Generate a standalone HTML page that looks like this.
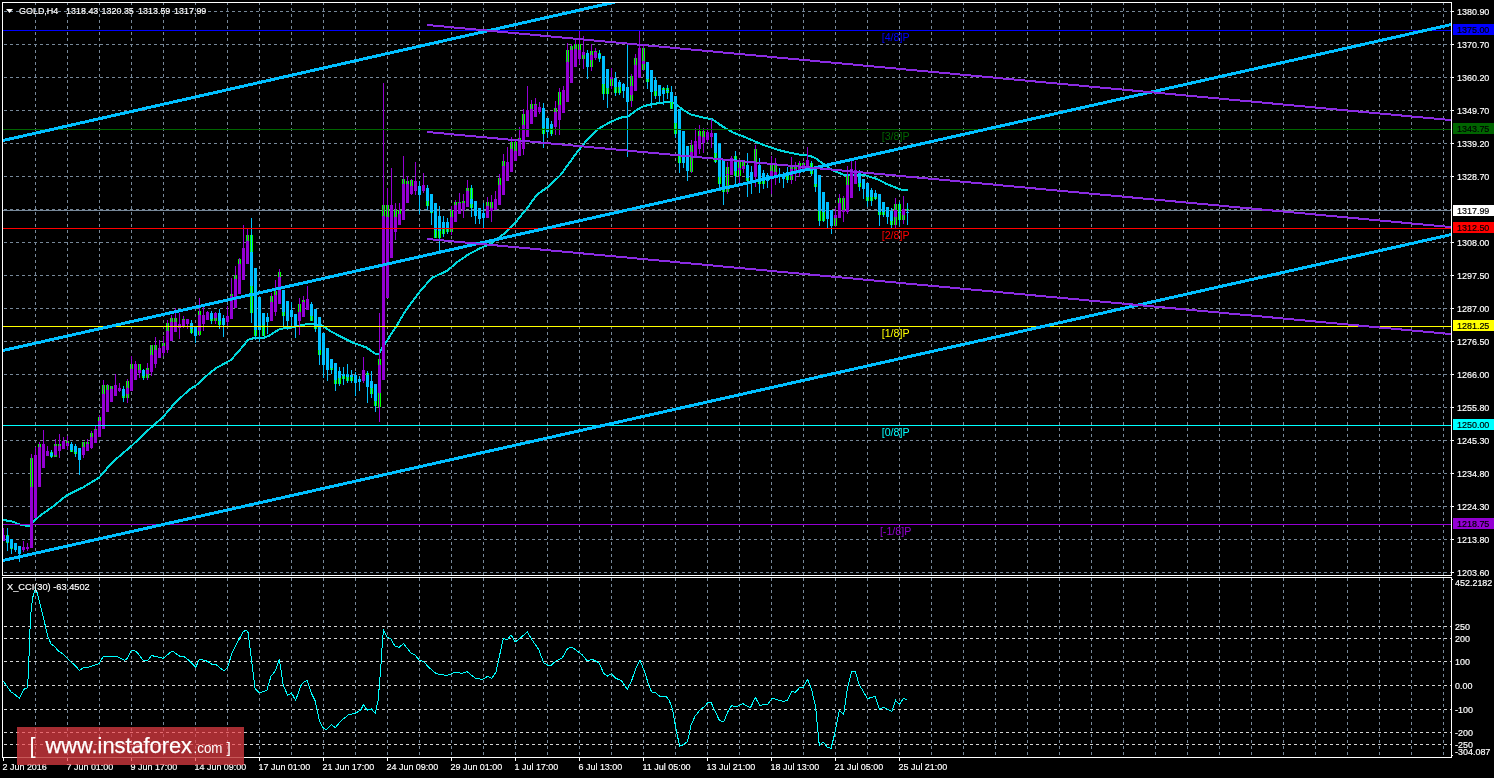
<!DOCTYPE html><html><head><meta charset="utf-8"><title>GOLD H4</title>
<style>html,body{margin:0;padding:0;background:#000;overflow:hidden}svg{display:block}text{font-family:"Liberation Sans",Arial,sans-serif;font-size:9.8px;fill:#fff;stroke:#fff;stroke-width:.18px}</style>
</head><body>
<svg width="1494" height="778" viewBox="0 0 1494 778">
<rect width="1494" height="778" fill="#000"/>
<defs><clipPath id="cm"><rect x="3" y="3" width="1448" height="572"/></clipPath><clipPath id="ci"><rect x="3" y="578" width="1448" height="179"/></clipPath></defs>
<g shape-rendering="crispEdges" stroke="#778899" stroke-width="1" stroke-dasharray="3 3" fill="none">
<path d="M35.5 2V575M67.5 2V575M99.5 2V575M131.5 2V575M163.5 2V575M195.5 2V575M227.5 2V575M259.5 2V575M291.5 2V575M323.5 2V575M355.5 2V575M387.5 2V575M419.5 2V575M451.5 2V575M483.5 2V575M515.5 2V575M547.5 2V575M579.5 2V575M611.5 2V575M643.5 2V575M675.5 2V575M707.5 2V575M739.5 2V575M771.5 2V575M803.5 2V575M835.5 2V575M867.5 2V575M899.5 2V575M931.5 2V575M963.5 2V575M995.5 2V575M1027.5 2V575M1059.5 2V575M1091.5 2V575M1123.5 2V575M1155.5 2V575M1187.5 2V575M1219.5 2V575M1251.5 2V575M1283.5 2V575M1315.5 2V575M1347.5 2V575M1379.5 2V575M1411.5 2V575M1443.5 2V575"/>
<path d="M35.5 578V757M67.5 578V757M99.5 578V757M131.5 578V757M163.5 578V757M195.5 578V757M227.5 578V757M259.5 578V757M291.5 578V757M323.5 578V757M355.5 578V757M387.5 578V757M419.5 578V757M451.5 578V757M483.5 578V757M515.5 578V757M547.5 578V757M579.5 578V757M611.5 578V757M643.5 578V757M675.5 578V757M707.5 578V757M739.5 578V757M771.5 578V757M803.5 578V757M835.5 578V757M867.5 578V757M899.5 578V757M931.5 578V757M963.5 578V757M995.5 578V757M1027.5 578V757M1059.5 578V757M1091.5 578V757M1123.5 578V757M1155.5 578V757M1187.5 578V757M1219.5 578V757M1251.5 578V757M1283.5 578V757M1315.5 578V757M1347.5 578V757M1379.5 578V757M1411.5 578V757M1443.5 578V757"/>
<path d="M4 11.5H1451M4 44.5H1451M4 77.5H1451M4 110.5H1451M4 143.5H1451M4 176.5H1451M4 209.5H1451M4 242.5H1451M4 275.5H1451M4 308.5H1451M4 341.5H1451M4 374.5H1451M4 407.5H1451M4 440.5H1451M4 473.5H1451M4 506.5H1451M4 539.5H1451M4 572.5H1451"/>
<path stroke="#d4d4d4" d="M4 626.5H1451M4 638.5H1451M4 661.5H1451M4 685.5H1451M4 709.5H1451M4 732.5H1451M4 744.5H1451"/>
</g>
<rect x="3" y="210" width="1448" height="1" fill="#778899" shape-rendering="crispEdges"/>
<g clip-path="url(#cm)" shape-rendering="crispEdges">
<polyline fill="none" stroke="#00d8dc" stroke-width="2" stroke-linejoin="round" points="3.3,520.2 10.7,520.9 20,524.6 28.8,526.2 32.8,522.2 40.2,515.5 53.5,506.1 66.9,495.2 83,487.4 99,477.7 112.4,462.2 131.2,446.2 141.9,436.1 152.6,426.1 163,417.1 174.3,403.7 189.1,389.7 195.8,385.7 205.1,377 215.8,368.3 230.6,360.2 238.6,351.5 248,339.9 254.7,337.8 264,337.8 269.4,335.5 280.1,328.8 290,327.8 300.8,325.4 308.8,323.8 320.9,324.8 330.2,331 342.3,337.5 353,342.8 366.4,347.5 375.8,354.2 379.1,354.2 381.8,348.2 386.5,341.5 397.2,324.8 406.3,309.5 419.5,292 431.6,278 447.6,270.6 455.7,263.2 469.1,253.9 481.1,247.8 490.5,243.8 503.9,233.8 515.5,222.4 527,208.3 537.3,194.3 548,186.9 560.1,175.5 570,162 578,151 587,140 599,128.4 611,121.7 620.5,117.7 628.5,116.3 635.2,111 643.2,106.3 651.3,104.3 660.6,102.9 668.7,101.6 675.4,103.6 682.5,109.5 691,114.6 702.9,117.4 712.3,119.4 723,126.7 733.7,132.8 744.4,136.8 755.1,141.5 768.5,146.8 779.2,150.2 789.9,152.8 800.6,154.8 810,155.8 816,158.5 823.5,164 833,170.4 844.3,175 865.7,175.5 876.4,178.8 887.1,184.2 897.8,188.5 903.2,190.2 907.8,190.2"/>
<path fill="#00ff00" d="M6 535h3v8h-3zM10 548h3v1h-3zM30 458h3v29h-3zM38 444h3v3h-3zM50 452h3v5h-3zM54 444h3v2h-3zM54 455h3v2h-3zM58 444h3v2h-3zM66 441h3v2h-3zM70 450h3v2h-3zM74 452h3v2h-3zM82 442h3v5h-3zM86 442h3v2h-3zM90 433h3v4h-3zM94 429h3v1h-3zM98 417h3v4h-3zM102 385h3v9h-3zM106 385h3v5h-3zM110 386h3v3h-3zM122 396h3v2h-3zM126 381h3v7h-3zM126 394h3v4h-3zM130 364h3v5h-3zM138 364h3v6h-3zM142 376h3v2h-3zM146 368h3v2h-3zM146 374h3v4h-3zM150 345h3v10h-3zM154 345h3v5h-3zM162 343h3v3h-3zM166 323h3v8h-3zM170 318h3v4h-3zM174 318h3v4h-3zM182 319h3v1h-3zM190 329h3v4h-3zM198 311h3v4h-3zM198 331h3v4h-3zM210 319h3v2h-3zM214 318h3v3h-3zM218 321h3v4h-3zM230 294h3v2h-3zM234 275h3v4h-3zM238 259h3v5h-3zM246 235h3v6h-3zM250 235h3v17h-3zM250 286h3v27h-3zM254 330h3v6h-3zM262 325h3v11h-3zM270 296h3v6h-3zM274 291h3v4h-3zM278 272h3v5h-3zM282 312h3v4h-3zM298 304h3v8h-3zM302 300h3v2h-3zM310 316h3v5h-3zM314 326h3v3h-3zM318 350h3v5h-3zM330 368h3v2h-3zM334 380h3v4h-3zM338 378h3v6h-3zM342 376h3v3h-3zM346 377h3v4h-3zM350 377h3v4h-3zM366 373h3v2h-3zM370 388h3v6h-3zM374 401h3v5h-3zM378 359h3v6h-3zM378 393h3v14h-3zM382 205h3v11h-3zM386 205h3v12h-3zM394 210h3v7h-3zM398 210h3v4h-3zM402 179h3v5h-3zM406 181h3v3h-3zM410 180h3v6h-3zM426 201h3v5h-3zM430 212h3v1h-3zM434 230h3v8h-3zM438 231h3v7h-3zM442 228h3v6h-3zM446 229h3v3h-3zM450 210h3v7h-3zM450 229h3v3h-3zM454 202h3v3h-3zM458 202h3v1h-3zM462 201h3v2h-3zM466 188h3v3h-3zM470 188h3v11h-3zM470 204h3v4h-3zM486 202h3v4h-3zM490 202h3v6h-3zM498 178h3v7h-3zM502 161h3v5h-3zM510 142h3v7h-3zM514 142h3v9h-3zM518 138h3v2h-3zM522 114h3v11h-3zM530 104h3v5h-3zM534 104h3v1h-3zM542 128h3v6h-3zM550 128h3v6h-3zM554 108h3v4h-3zM558 92h3v13h-3zM566 50h3v12h-3zM570 46h3v4h-3zM574 44h3v5h-3zM578 44h3v6h-3zM582 55h3v4h-3zM590 51h3v4h-3zM590 60h3v7h-3zM594 51h3v1h-3zM598 53h3v6h-3zM602 84h3v10h-3zM606 88h3v6h-3zM610 79h3v7h-3zM614 87h3v6h-3zM618 87h3v6h-3zM630 76h3v10h-3zM630 95h3v6h-3zM634 58h3v7h-3zM642 48h3v13h-3zM642 64h3v6h-3zM646 79h3v3h-3zM654 91h3v5h-3zM662 88h3v2h-3zM666 88h3v5h-3zM670 102h3v7h-3zM674 123h3v11h-3zM678 156h3v7h-3zM690 145h3v27h-3zM698 131h3v5h-3zM702 131h3v6h-3zM714 153h3v9h-3zM718 177h3v7h-3zM722 190h3v2h-3zM726 167h3v25h-3zM734 156h3v20h-3zM738 162h3v14h-3zM742 162h3v5h-3zM746 178h3v3h-3zM754 149h3v13h-3zM758 181h3v3h-3zM762 181h3v3h-3zM770 165h3v6h-3zM774 165h3v7h-3zM786 176h3v4h-3zM790 167h3v2h-3zM790 176h3v4h-3zM794 167h3v2h-3zM798 163h3v3h-3zM802 163h3v2h-3zM810 163h3v4h-3zM810 171h3v3h-3zM814 184h3v3h-3zM818 211h3v10h-3zM822 212h3v9h-3zM834 218h3v8h-3zM838 198h3v5h-3zM842 198h3v13h-3zM846 176h3v9h-3zM858 183h3v4h-3zM866 197h3v4h-3zM870 197h3v4h-3zM874 197h3v2h-3zM878 212h3v3h-3zM882 212h3v3h-3zM890 221h3v4h-3zM894 204h3v6h-3zM894 217h3v8h-3zM898 204h3v16h-3zM902 215h3v5h-3zM906 209h3v1h-3z"/>
<path fill="#9400d3" d="M2 535h3v6h-3zM22 547h3v3h-3zM26 547h3v2h-3zM30 487h3v61h-3zM34 455h3v63h-3zM38 447h3v40h-3zM42 444h3v24h-3zM46 451h3v5h-3zM54 446h3v9h-3zM58 446h3v5h-3zM62 441h3v8h-3zM66 443h3v3h-3zM82 447h3v8h-3zM86 444h3v7h-3zM90 437h3v11h-3zM94 430h3v13h-3zM98 421h3v16h-3zM102 394h3v35h-3zM106 390h3v22h-3zM110 389h3v13h-3zM114 385h3v11h-3zM118 388h3v3h-3zM126 388h3v6h-3zM130 369h3v22h-3zM134 364h3v16h-3zM138 370h3v3h-3zM146 370h3v4h-3zM150 355h3v17h-3zM154 350h3v14h-3zM158 348h3v10h-3zM162 346h3v7h-3zM166 331h3v19h-3zM170 322h3v19h-3zM174 322h3v10h-3zM178 324h3v4h-3zM182 320h3v6h-3zM186 319h3v5h-3zM198 315h3v16h-3zM202 315h3v9h-3zM206 312h3v8h-3zM214 313h3v5h-3zM226 316h3v6h-3zM230 296h3v23h-3zM234 279h3v29h-3zM238 264h3v30h-3zM242 248h3v32h-3zM246 241h3v23h-3zM270 302h3v19h-3zM274 295h3v17h-3zM278 277h3v27h-3zM298 312h3v9h-3zM302 302h3v15h-3zM306 299h3v11h-3zM362 370h3v11h-3zM378 365h3v28h-3zM382 216h3v164h-3zM386 217h3v81h-3zM390 205h3v53h-3zM394 217h3v15h-3zM398 214h3v11h-3zM402 184h3v36h-3zM406 184h3v19h-3zM410 186h3v8h-3zM414 181h3v10h-3zM422 185h3v6h-3zM450 217h3v12h-3zM454 205h3v17h-3zM458 203h3v11h-3zM462 203h3v7h-3zM466 191h3v16h-3zM486 206h3v12h-3zM490 208h3v3h-3zM494 199h3v11h-3zM498 185h3v20h-3zM502 166h3v29h-3zM506 162h3v19h-3zM510 149h3v23h-3zM514 151h3v10h-3zM518 140h3v16h-3zM522 125h3v24h-3zM526 110h3v27h-3zM530 109h3v15h-3zM534 105h3v12h-3zM538 107h3v5h-3zM554 112h3v15h-3zM558 105h3v15h-3zM562 90h3v23h-3zM566 62h3v40h-3zM570 50h3v33h-3zM574 49h3v18h-3zM578 50h3v9h-3zM582 52h3v3h-3zM590 55h3v5h-3zM594 52h3v6h-3zM610 77h3v2h-3zM630 86h3v9h-3zM634 65h3v26h-3zM638 48h3v30h-3zM642 61h3v3h-3zM690 152h3v5h-3zM694 141h3v15h-3zM698 136h3v13h-3zM702 137h3v6h-3zM706 132h3v8h-3zM710 133h3v4h-3zM726 174h3v1h-3zM730 158h3v17h-3zM738 168h3v2h-3zM742 166h3v3h-3zM754 162h3v15h-3zM770 171h3v5h-3zM774 172h3v3h-3zM790 169h3v7h-3zM794 169h3v5h-3zM798 166h3v4h-3zM802 165h3v4h-3zM806 160h3v8h-3zM834 215h3v3h-3zM838 203h3v15h-3zM842 210h3v2h-3zM846 185h3v27h-3zM850 169h3v29h-3zM854 170h3v14h-3zM894 210h3v7h-3zM902 209h3v6h-3zM3 528h1v12h-1zM23 541h1v11h-1zM27 543h1v8h-1zM31 454h1v94h-1zM35 447h1v71h-1zM39 442h1v45h-1zM43 430h1v38h-1zM47 446h1v10h-1zM55 439h1v18h-1zM59 434h1v24h-1zM63 437h1v12h-1zM67 436h1v14h-1zM83 442h1v16h-1zM87 439h1v12h-1zM91 431h1v18h-1zM95 426h1v17h-1zM99 415h1v22h-1zM103 380h1v49h-1zM107 384h1v28h-1zM111 386h1v16h-1zM115 374h1v22h-1zM119 383h1v9h-1zM127 379h1v24h-1zM131 356h1v35h-1zM135 361h1v19h-1zM139 364h1v14h-1zM147 363h1v17h-1zM151 345h1v31h-1zM155 337h1v31h-1zM159 340h1v18h-1zM163 336h1v20h-1zM167 320h1v33h-1zM171 315h1v26h-1zM175 308h1v24h-1zM179 313h1v26h-1zM183 316h1v12h-1zM187 319h1v10h-1zM199 298h1v38h-1zM203 307h1v24h-1zM207 311h1v9h-1zM215 312h1v12h-1zM227 306h1v20h-1zM231 278h1v41h-1zM235 266h1v42h-1zM239 258h1v36h-1zM243 225h1v55h-1zM247 228h1v36h-1zM271 293h1v28h-1zM275 280h1v36h-1zM279 269h1v35h-1zM299 298h1v37h-1zM303 296h1v21h-1zM307 286h1v24h-1zM363 357h1v26h-1zM379 313h1v109h-1zM383 83h1v297h-1zM387 188h1v110h-1zM391 168h1v90h-1zM395 203h1v37h-1zM399 203h1v22h-1zM403 156h1v64h-1zM407 176h1v27h-1zM411 179h1v16h-1zM415 162h1v33h-1zM423 173h1v20h-1zM451 206h1v29h-1zM455 200h1v22h-1zM459 193h1v21h-1zM463 194h1v24h-1zM467 180h1v27h-1zM487 197h1v21h-1zM491 195h1v27h-1zM495 191h1v19h-1zM499 174h1v31h-1zM503 154h1v41h-1zM507 147h1v34h-1zM511 137h1v35h-1zM515 142h1v19h-1zM519 127h1v29h-1zM523 109h1v46h-1zM527 86h1v51h-1zM531 100h1v24h-1zM535 98h1v19h-1zM539 102h1v12h-1zM555 101h1v34h-1zM559 88h1v47h-1zM563 86h1v27h-1zM567 43h1v59h-1zM571 44h1v39h-1zM575 40h1v27h-1zM579 31h1v33h-1zM583 36h1v33h-1zM591 44h1v27h-1zM595 48h1v12h-1zM611 68h1v21h-1zM631 74h1v33h-1zM635 54h1v37h-1zM639 31h1v47h-1zM643 46h1v25h-1zM691 140h1v33h-1zM695 128h1v28h-1zM699 125h1v29h-1zM703 128h1v25h-1zM707 128h1v14h-1zM711 119h1v29h-1zM727 162h1v32h-1zM731 156h1v19h-1zM739 159h1v24h-1zM743 162h1v11h-1zM755 145h1v42h-1zM771 156h1v38h-1zM775 158h1v27h-1zM791 157h1v27h-1zM795 162h1v19h-1zM799 161h1v16h-1zM803 162h1v8h-1zM807 147h1v24h-1zM835 208h1v19h-1zM839 194h1v24h-1zM843 196h1v26h-1zM847 166h1v48h-1zM851 161h1v37h-1zM855 161h1v23h-1zM895 198h1v30h-1zM903 196h1v28h-1z"/>
<path fill="#00bfff" d="M6 536h3v6h-3zM10 539h3v9h-3zM14 543h3v7h-3zM18 546h3v8h-3zM50 453h3v3h-3zM70 444h3v6h-3zM74 446h3v6h-3zM78 448h3v12h-3zM122 389h3v7h-3zM142 370h3v6h-3zM190 323h3v6h-3zM194 327h3v9h-3zM210 313h3v6h-3zM218 313h3v8h-3zM222 318h3v7h-3zM250 252h3v34h-3zM254 268h3v62h-3zM258 297h3v33h-3zM262 313h3v12h-3zM266 317h3v5h-3zM282 290h3v22h-3zM286 301h3v20h-3zM290 310h3v7h-3zM294 314h3v12h-3zM310 304h3v12h-3zM314 309h3v17h-3zM318 317h3v33h-3zM322 333h3v32h-3zM326 348h3v22h-3zM330 359h3v9h-3zM334 363h3v17h-3zM338 371h3v7h-3zM342 374h3v2h-3zM346 374h3v3h-3zM350 375h3v2h-3zM354 375h3v8h-3zM358 379h3v3h-3zM366 375h3v12h-3zM370 381h3v7h-3zM374 384h3v17h-3zM418 186h3v9h-3zM426 188h3v13h-3zM430 194h3v18h-3zM434 203h3v27h-3zM438 216h3v15h-3zM442 222h3v6h-3zM446 222h3v7h-3zM470 199h3v5h-3zM474 201h3v15h-3zM478 208h3v11h-3zM482 213h3v5h-3zM542 108h3v20h-3zM546 118h3v14h-3zM550 124h3v4h-3zM586 53h3v14h-3zM598 54h3v4h-3zM602 56h3v28h-3zM606 69h3v19h-3zM614 78h3v9h-3zM618 82h3v5h-3zM622 84h3v7h-3zM626 87h3v15h-3zM646 62h3v17h-3zM650 70h3v22h-3zM654 80h3v11h-3zM658 85h3v11h-3zM662 90h3v4h-3zM666 90h3v1h-3zM670 92h3v10h-3zM674 96h3v27h-3zM678 109h3v47h-3zM682 131h3v32h-3zM686 146h3v25h-3zM714 133h3v20h-3zM718 143h3v34h-3zM722 160h3v30h-3zM734 159h3v12h-3zM746 165h3v13h-3zM750 172h3v11h-3zM758 165h3v16h-3zM762 173h3v8h-3zM766 175h3v6h-3zM778 174h3v3h-3zM782 175h3v4h-3zM786 172h3v4h-3zM810 167h3v4h-3zM814 169h3v15h-3zM818 175h3v36h-3zM822 192h3v20h-3zM826 202h3v17h-3zM830 210h3v16h-3zM858 173h3v10h-3zM862 179h3v10h-3zM866 183h3v14h-3zM870 190h3v7h-3zM874 193h3v4h-3zM878 194h3v18h-3zM882 202h3v10h-3zM886 207h3v10h-3zM890 211h3v10h-3zM898 212h3v1h-3zM906 212h3v1h-3zM7 528h1v23h-1zM11 539h1v15h-1zM15 543h1v9h-1zM19 546h1v16h-1zM51 450h1v8h-1zM71 442h1v10h-1zM75 444h1v13h-1zM79 448h1v27h-1zM123 386h1v16h-1zM143 369h1v11h-1zM191 320h1v14h-1zM195 327h1v16h-1zM211 311h1v13h-1zM219 309h1v20h-1zM223 315h1v22h-1zM251 218h1v105h-1zM255 268h1v72h-1zM259 297h1v45h-1zM263 313h1v23h-1zM267 313h1v21h-1zM283 290h1v36h-1zM287 301h1v29h-1zM291 302h1v24h-1zM295 314h1v24h-1zM311 302h1v19h-1zM315 309h1v23h-1zM319 317h1v48h-1zM323 333h1v45h-1zM327 348h1v33h-1zM331 359h1v15h-1zM335 363h1v28h-1zM339 367h1v19h-1zM343 367h1v18h-1zM347 364h1v19h-1zM351 370h1v13h-1zM355 372h1v24h-1zM359 376h1v15h-1zM367 371h1v32h-1zM371 371h1v27h-1zM375 384h1v28h-1zM419 181h1v33h-1zM427 185h1v25h-1zM431 194h1v31h-1zM435 203h1v35h-1zM439 206h1v45h-1zM443 216h1v21h-1zM447 218h1v16h-1zM471 185h1v32h-1zM475 201h1v23h-1zM479 208h1v16h-1zM483 203h1v25h-1zM543 103h1v45h-1zM547 118h1v20h-1zM551 121h1v15h-1zM587 50h1v29h-1zM599 50h1v12h-1zM603 56h1v44h-1zM607 69h1v39h-1zM615 72h1v24h-1zM619 80h1v15h-1zM623 83h1v15h-1zM627 45h1v112h-1zM647 62h1v27h-1zM651 70h1v38h-1zM655 77h1v22h-1zM659 85h1v18h-1zM663 87h1v18h-1zM667 85h1v14h-1zM671 86h1v23h-1zM675 96h1v42h-1zM679 109h1v64h-1zM683 131h1v37h-1zM687 146h1v35h-1zM715 133h1v30h-1zM719 143h1v45h-1zM723 160h1v45h-1zM735 151h1v33h-1zM747 153h1v44h-1zM751 166h1v28h-1zM759 158h1v35h-1zM763 170h1v19h-1zM767 173h1v15h-1zM779 168h1v15h-1zM783 172h1v16h-1zM787 167h1v16h-1zM811 161h1v15h-1zM815 169h1v23h-1zM819 175h1v51h-1zM823 192h1v30h-1zM827 202h1v26h-1zM831 210h1v24h-1zM859 170h1v21h-1zM863 179h1v20h-1zM867 183h1v24h-1zM871 188h1v18h-1zM875 190h1v10h-1zM879 194h1v32h-1zM883 202h1v15h-1zM887 207h1v17h-1zM891 208h1v20h-1zM899 202h1v24h-1zM907 203h1v22h-1z"/>
</g>
<g clip-path="url(#ci)"><polyline fill="none" stroke="#00ffff" stroke-width="1" shape-rendering="crispEdges" points="3.3,681.1 10.9,691.8 14.2,694 19.2,698.2 24.3,689 27.6,687.8 28.8,661.3 30.5,616.2 32.6,597.8 35.5,588.6 37.7,594.4 43.5,617.8 47.7,636.2 51,643.8 54.4,646.3 58.6,651.3 62.8,653.8 71.1,662.2 75.3,665.5 79.5,670.5 83.7,667.5 88.7,667.2 93.7,665.5 98.7,663.9 103.2,656.7 117.1,656.7 124.7,660.5 127.2,658.3 131.4,650.5 134.7,650.5 137.2,652.6 143.6,660.8 148.1,660.2 151.4,655.5 154.8,656.3 159,657.2 163.2,658.3 170.7,652.1 173.2,651.6 179.9,656.3 184.1,656.8 189.1,660.5 195.8,667.2 199.1,659.7 200.8,659.2 207.5,661.3 211.7,664.2 215.9,664.4 223.9,670.9 227.6,667.2 231.8,653.8 237.6,642.1 243.3,631.5 246.7,630.1 248.1,632.6 250.9,655.2 255.1,688.7 259.3,692.9 266.8,690.4 271,676.1 275.2,671.1 279.4,659.4 283.2,685.3 287.7,695.4 291.6,692.9 295.6,700.4 301.1,685.3 304.5,681.2 307.3,680.7 311.2,692.9 315.3,701.2 319.5,721.3 323.7,728.8 327.1,729.2 331.2,724.7 335.4,727.5 341.3,720.5 348.8,714.6 354.7,713.5 360.5,710.4 363.4,704.6 367.2,710.1 371.4,708.8 375.2,713.5 378.1,700.4 380.6,670.3 382.6,638.5 383.6,630.1 387.3,637.7 390.6,638.2 394.8,646 399,647.4 403.5,643.5 410.7,652.7 414.9,654.9 419.1,659.9 424.1,661.9 427.5,666.1 435.8,673.3 439.2,674.5 447.5,675.3 455.1,672.3 461.8,673.3 466.9,671.6 475.5,678.3 482.6,679.4 487.6,676.4 491.8,678.3 496,671.9 499.3,656.9 503.2,638.8 507.7,639.3 511,634.8 515.2,642.1 527.4,632.1 532,639.8 538.6,649.3 543.7,662.7 547.9,665.2 551.2,665.2 556.2,660.7 562.1,658.2 567.1,649.3 570.4,647.1 573.8,648.5 582.2,654.8 587.2,661 592.2,659.4 598.9,662.7 603.9,673.6 607.3,676.1 611.4,673.6 615.6,678.3 621.5,680.6 627.3,689.5 631.5,681.1 635.7,668.6 639.9,660.2 644.1,670.2 648.3,683.6 651.6,692 655.8,692.8 660,696.5 666.3,696.6 669.2,700.3 672.6,709.5 675.9,728.7 679.7,746.3 683.4,744.6 687.6,741.3 691,725.4 695.1,716.2 700.2,709.5 703.8,707.3 707.7,702.8 711,702.3 719.4,720.4 723.6,722 727.8,712 731.6,705.6 735.6,707 742.8,703.6 750.4,707.8 755.4,697.4 759.6,705.3 767.9,704.1 772.1,698.3 783.8,701.6 787.2,700.3 791.9,691.6 795.5,692.2 799.7,687.4 803.1,687.4 807.6,679.4 811.4,688.6 815.6,707 819.3,745.5 823.2,742.1 827.3,747.1 831,748.5 834.9,732.9 839.4,710.3 843.6,714.5 847.4,688.6 851.6,671.5 855.4,671.5 859.1,684.4 867.5,698.6 875,696.4 879.5,709.2 883.4,707.3 891.8,711.5 895.6,700.3 899.3,704.5 903.5,698.3 907.2,699.8"/></g>
<g shape-rendering="crispEdges">
<rect x="3" y="30" width="1448" height="1" fill="#0000ff"/>
<rect x="3" y="129" width="1448" height="1" fill="#006400"/>
<rect x="3" y="228" width="1448" height="1" fill="#ff0000"/>
<rect x="3" y="326" width="1448" height="1" fill="#ffff00"/>
<rect x="3" y="425" width="1448" height="1" fill="#00ffff"/>
<rect x="3" y="524" width="1448" height="1" fill="#9400d3"/>
</g>
<g clip-path="url(#cm)" shape-rendering="crispEdges" fill="none">
<g stroke="#00bfff" stroke-width="3"><path d="M3 140.5L1451.5 -187.2M3 350.5L1451.5 24.5M3 560.5L1451.5 234.5"/></g>
<g stroke="#8a2be2" stroke-width="2"><path d="M427 24.96L1451 120.1M427 131.96L1451 227.1M427 238.96L1451 334.1"/></g>
</g>
<text x="895.6" y="41" text-anchor="middle" style="font-size:10.67px;fill:#0000ff;stroke:none">[4/8]P</text>
<text x="895.6" y="140" text-anchor="middle" style="font-size:10.67px;fill:#006400;stroke:none">[3/8]P</text>
<text x="895.6" y="239" text-anchor="middle" style="font-size:10.67px;fill:#ff0000;stroke:none">[2/8]P</text>
<text x="895.6" y="337" text-anchor="middle" style="font-size:10.67px;fill:#ffff00;stroke:none">[1/8]P</text>
<text x="895.6" y="436" text-anchor="middle" style="font-size:10.67px;fill:#00ffff;stroke:none">[0/8]P</text>
<text x="895.6" y="535" text-anchor="middle" style="font-size:10.67px;fill:#9400d3;stroke:none">[-1/8]P</text>
<g shape-rendering="crispEdges" fill="#fff">
<rect x="2" y="2" width="1450" height="1"/><rect x="2" y="2" width="1" height="574"/><rect x="1451" y="2" width="1" height="574"/><rect x="2" y="575" width="1450" height="1"/>
<rect x="2" y="577" width="1450" height="1"/><rect x="2" y="577" width="1" height="181"/><rect x="1451" y="577" width="1" height="181"/><rect x="2" y="757" width="1450" height="1"/>
<rect x="1452" y="11" width="2" height="1"/>
<rect x="1452" y="44" width="2" height="1"/>
<rect x="1452" y="77" width="2" height="1"/>
<rect x="1452" y="110" width="2" height="1"/>
<rect x="1452" y="143" width="2" height="1"/>
<rect x="1452" y="176" width="2" height="1"/>
<rect x="1452" y="242" width="2" height="1"/>
<rect x="1452" y="275" width="2" height="1"/>
<rect x="1452" y="308" width="2" height="1"/>
<rect x="1452" y="341" width="2" height="1"/>
<rect x="1452" y="374" width="2" height="1"/>
<rect x="1452" y="407" width="2" height="1"/>
<rect x="1452" y="440" width="2" height="1"/>
<rect x="1452" y="473" width="2" height="1"/>
<rect x="1452" y="506" width="2" height="1"/>
<rect x="1452" y="539" width="2" height="1"/>
<rect x="1452" y="572" width="2" height="1"/>
<rect x="1452" y="579" width="1" height="1"/><rect x="1452" y="755" width="1" height="1"/>
<rect x="3" y="758" width="1" height="3"/>
<rect x="67" y="758" width="1" height="3"/>
<rect x="131" y="758" width="1" height="3"/>
<rect x="195" y="758" width="1" height="3"/>
<rect x="259" y="758" width="1" height="3"/>
<rect x="323" y="758" width="1" height="3"/>
<rect x="387" y="758" width="1" height="3"/>
<rect x="451" y="758" width="1" height="3"/>
<rect x="515" y="758" width="1" height="3"/>
<rect x="579" y="758" width="1" height="3"/>
<rect x="643" y="758" width="1" height="3"/>
<rect x="707" y="758" width="1" height="3"/>
<rect x="771" y="758" width="1" height="3"/>
<rect x="835" y="758" width="1" height="3"/>
<rect x="899" y="758" width="1" height="3"/>
</g>
<text transform="translate(1457 15) scale(.915 1)">1380.90</text>
<text transform="translate(1457 48) scale(.915 1)">1370.70</text>
<text transform="translate(1457 81) scale(.915 1)">1360.20</text>
<text transform="translate(1457 114) scale(.915 1)">1349.70</text>
<text transform="translate(1457 147) scale(.915 1)">1339.20</text>
<text transform="translate(1457 180) scale(.915 1)">1328.70</text>
<text transform="translate(1457 246) scale(.915 1)">1308.00</text>
<text transform="translate(1457 279) scale(.915 1)">1297.50</text>
<text transform="translate(1457 312) scale(.915 1)">1287.00</text>
<text transform="translate(1457 345) scale(.915 1)">1276.50</text>
<text transform="translate(1457 378) scale(.915 1)">1266.00</text>
<text transform="translate(1457 411) scale(.915 1)">1255.80</text>
<text transform="translate(1457 444) scale(.915 1)">1245.30</text>
<text transform="translate(1457 477) scale(.915 1)">1234.80</text>
<text transform="translate(1457 510) scale(.915 1)">1224.30</text>
<text transform="translate(1457 543) scale(.915 1)">1213.80</text>
<text transform="translate(1457 576) scale(.915 1)">1203.60</text>
<g shape-rendering="crispEdges">
<rect x="1453" y="205" width="41" height="11" fill="#fff"/>
<rect x="1453" y="24" width="41" height="11" fill="#0000ff"/>
<rect x="1453" y="123" width="41" height="11" fill="#006400"/>
<rect x="1453" y="222" width="41" height="11" fill="#ff0000"/>
<rect x="1453" y="320" width="41" height="11" fill="#ffff00"/>
<rect x="1453" y="419" width="41" height="11" fill="#00ffff"/>
<rect x="1453" y="518" width="41" height="11" fill="#9400d3"/>
</g>
<text transform="translate(1457 214) scale(.915 1)" style="fill:#000;stroke:#000">1317.99</text>
<text transform="translate(1457 33) scale(.915 1)" style="fill:#000;stroke:#000">1375.00</text>
<text transform="translate(1457 132) scale(.915 1)" style="fill:#000;stroke:#000">1343.75</text>
<text transform="translate(1457 231) scale(.915 1)" style="fill:#000;stroke:#000">1312.50</text>
<text transform="translate(1457 329) scale(.915 1)" style="fill:#000;stroke:#000">1281.25</text>
<text transform="translate(1457 428) scale(.915 1)" style="fill:#000;stroke:#000">1250.00</text>
<text transform="translate(1457 527) scale(.915 1)" style="fill:#000;stroke:#000">1218.75</text>
<text transform="translate(1455 586) scale(.915 1)">452.2182</text>
<text transform="translate(1455 630) scale(.915 1)">250</text>
<text transform="translate(1455 642) scale(.915 1)">200</text>
<text transform="translate(1455 665) scale(.915 1)">100</text>
<text transform="translate(1455 689) scale(.915 1)">0.00</text>
<text transform="translate(1455 713) scale(.915 1)">-100</text>
<text transform="translate(1455 736) scale(.915 1)">-200</text>
<text transform="translate(1455 748) scale(.915 1)">-250</text>
<text transform="translate(1455 755) scale(.915 1)">-304.087</text>
<path d="M6 9h7l-3.5 4z" fill="#fff"/>
<text transform="translate(19 14) scale(.915 1)">GOLD,H4</text><text transform="translate(66 14) scale(.915 1)">1318.43</text><text transform="translate(101.5 14) scale(.915 1)">1320.35</text><text transform="translate(138 14) scale(.915 1)">1313.59</text><text transform="translate(174 14) scale(.915 1)">1317.99</text>
<text transform="translate(7 590) scale(.945 1)" style="font-size:9.8px">X_CCI(30) -63.4502</text>
<text transform="translate(2.5 770) scale(.915 1)">2 Jun 2016</text>
<text transform="translate(66.5 770) scale(.915 1)">7 Jun 01:00</text>
<text transform="translate(130.5 770) scale(.915 1)">9 Jun 17:00</text>
<text transform="translate(194.5 770) scale(.915 1)">14 Jun 09:00</text>
<text transform="translate(258.5 770) scale(.915 1)">17 Jun 01:00</text>
<text transform="translate(322.5 770) scale(.915 1)">21 Jun 17:00</text>
<text transform="translate(386.5 770) scale(.915 1)">24 Jun 09:00</text>
<text transform="translate(450.5 770) scale(.915 1)">29 Jun 01:00</text>
<text transform="translate(514.5 770) scale(.915 1)">1 Jul 17:00</text>
<text transform="translate(578.5 770) scale(.915 1)">6 Jul 13:00</text>
<text transform="translate(642.5 770) scale(.915 1)">11 Jul 05:00</text>
<text transform="translate(706.5 770) scale(.915 1)">13 Jul 21:00</text>
<text transform="translate(770.5 770) scale(.915 1)">18 Jul 13:00</text>
<text transform="translate(834.5 770) scale(.915 1)">21 Jul 05:00</text>
<text transform="translate(898.5 770) scale(.915 1)">25 Jul 21:00</text>
<rect x="17" y="727" width="227" height="38" fill="#ec4047" fill-opacity="0.7"/>
<rect x="17" y="757" width="227" height="1" fill="#c85a5a" shape-rendering="crispEdges"/>
<text x="29.5" y="753" style="font-size:22px;stroke:none">[</text><text x="45.5" y="753" style="font-size:22px;stroke:#fff;stroke-width:.25px" textLength="146.5" lengthAdjust="spacingAndGlyphs">www.instaforex</text><text x="193.5" y="753" style="font-size:15px;stroke:none" textLength="29" lengthAdjust="spacingAndGlyphs">.com</text><text x="226.5" y="752.5" style="font-size:15.5px;stroke:none">]</text>
</svg></body></html>
